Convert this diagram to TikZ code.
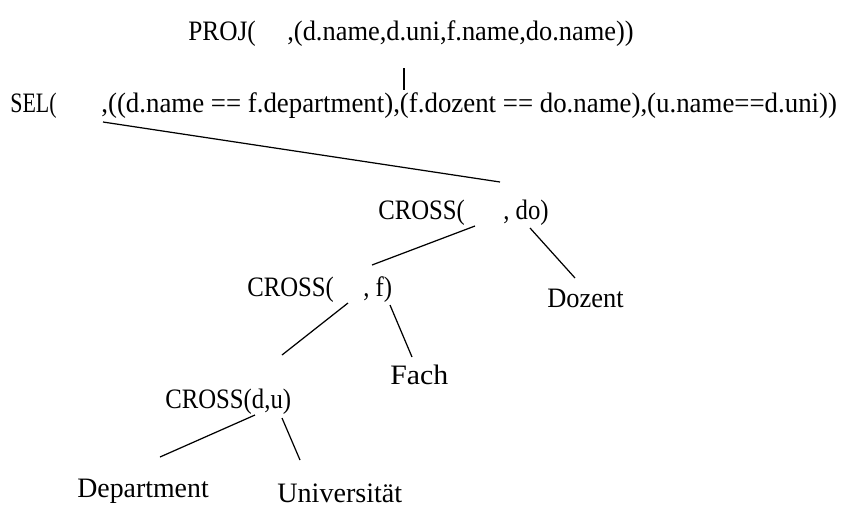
\documentclass[tikz,border=0pt]{standalone}
\usepackage{fontspec}
\setmainfont{Liberation Serif}
\usepackage{tikz}
\usetikzlibrary{calc}

\begin{document}
\begin{tikzpicture}[x=0.02cm,y=-0.02cm]
			%%%%% START %%%%%
			\tikzset{lbl/.style={inner sep=0pt,anchor=base west,font=\fontsize{16}{18}\selectfont\addfontfeature{FakeStretch=#1}},
				lbl/.default=0.88,
				edge/.style={line width=0.7pt}}
			\useasboundingbox (0,0) rectangle (851,518);
			
			% projection
			\node[lbl=0.9] (projl) at (188,40) {PROJ(};
			\node[lbl=0.94] (projr) at (287,40) {,(d.name,d.uni,f.name,do.name))};
			
			% selection
			\node[lbl=0.78] (sell) at (10,112) {SEL(};
			\node[lbl=0.955] (selr) at (101,112) {,((d.name == f.department),(f.dozent == do.name),(u.name==d.uni))};
			
			% cross products
			\node[lbl] (crossal) at (378,219) {CROSS(};
			\node[lbl] (crossar) at (503,219) {, do)};
			\node[lbl=0.94] (dozent) at (547,307) {Dozent};
			
			\node[lbl] (crossbl) at (247,296) {CROSS(};
			\node[lbl] (crossbr) at (363,296) {, f)};
			\node[lbl=1.06] (fach) at (390,384) {Fach};
			
			\node[lbl] (crossc) at (165,408) {CROSS(d,u)};
			\node[lbl=0.99] (dept) at (77,497) {Department};
			\node[lbl=1.0] (uni) at (277,502) {Universit\"at};
			
			% holes
			\coordinate (projhole) at (404,68);
			\coordinate (selhole) at (103,122);
			\coordinate (crossahole) at (475,226);
			\coordinate (crossbhole) at (348,303);
			
			\draw[edge] (projhole) -- (404,90);
			\draw[edge] (selhole) -- (500,182);
			\draw[edge] (crossahole) -- (372,265);
			\draw[edge] (530,228) -- (575,278);
			\draw[edge] (crossbhole) -- (282,355);
			\draw[edge] (390,305) -- (412,357);
			\draw[edge] (255,415) -- (160,457);
			\draw[edge] (282,418) -- (300,460);
			
			%%%%% END %%%%%
		\end{tikzpicture}
\end{document}
